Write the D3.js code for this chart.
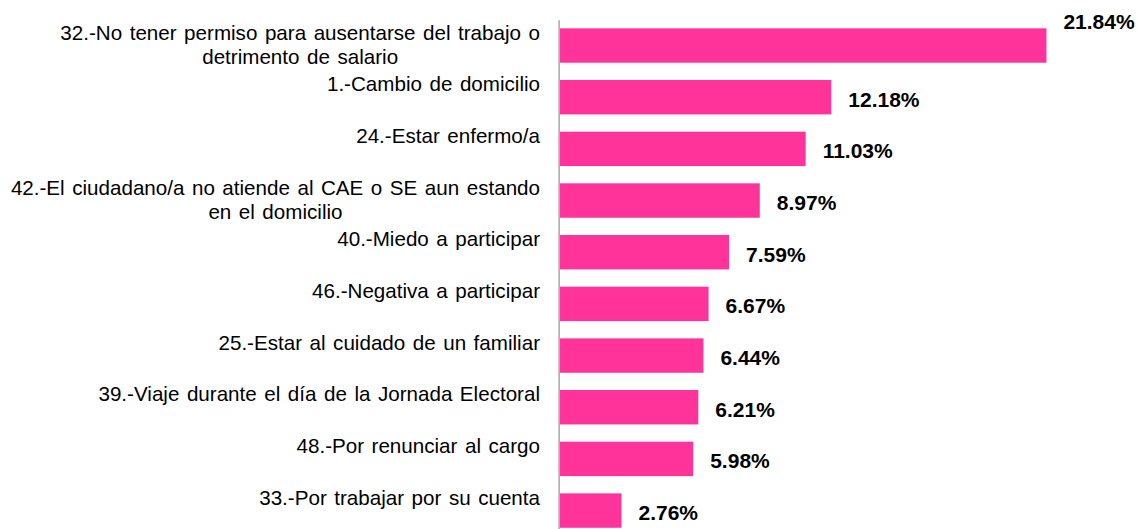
<!DOCTYPE html>
<html>
<head>
<meta charset="utf-8">
<script src="https://cdn.jsdelivr.net/npm/d3@7"></script>
<style>
  body { margin: 0; background: #fff; }
  text { font-family: Arial, "Liberation Sans", sans-serif; }
</style>
</head>
<body>
<script>
var width = 1137;
var height = 529;

// categories ("\n" = line break as in the original)
var categories = [
  "32.-No tener permiso para ausentarse del trabajo o\ndetrimento de salario",
  "1.-Cambio de domicilio",
  "24.-Estar enfermo/a",
  "42.-El ciudadano/a no atiende al CAE o SE aun estando\nen el domicilio",
  "40.-Miedo a participar",
  "46.-Negativa a participar",
  "25.-Estar al cuidado de un familiar",
  "39.-Viaje durante el día de la Jornada Electoral",
  "48.-Por renunciar al cargo",
  "33.-Por trabajar por su cuenta"
];

var values = [21.84, 12.18, 11.03, 8.97, 7.59, 6.67, 6.44, 6.21, 5.98, 2.76];

var valueLabels = ["21.84%", "12.18%", "11.03%", "8.97%", "7.59%", "6.67%", "6.44%", "6.21%", "5.98%", "2.76%"];

var data = categories.map(function(c, i) {
  return {cat: c, value: values[i], label: valueLabels[i]};
});

var svg = d3.select("body")
  .append("svg")
  .attr("width", width)
  .attr("height", height);

var xScale = d3.scaleLinear()
  .domain([0, 22])
  .range([560, 1050]);

var yScale = d3.scaleBand()
  .domain(categories)
  .range([19.7, 536.4])
  .paddingInner(0.334)
  .paddingOuter(0.167);

var bw = yScale.bandwidth();

// bars
svg.selectAll("rect.bar")
  .data(data)
  .enter()
  .append("rect")
    .attr("class", "bar")
    .attr("x", xScale(0))
    .attr("y", function(d) { return yScale(d.cat); })
    .attr("width", function(d) { return xScale(d.value) - xScale(0); })
    .attr("height", bw)
    .attr("fill", "#FF3399");

// vertical axis line only
var yAxis = svg.append("g")
  .attr("transform", "translate(558.6,0)")
  .call(d3.axisLeft(yScale).tickSize(0).tickSizeOuter(0).tickFormat(""));
yAxis.select(".domain")
  .attr("stroke", "#A6A6A6")
  .attr("stroke-width", 1.5);

// category labels: block right aligned, lines centered inside the block
var labelRight = 540;
var lineHeight = 24;

data.forEach(function(d) {
  var lines = d.cat.split("\n");
  var base = yScale(d.cat) + bw / 2 - 6;
  var g = svg.append("g");
  var texts = lines.map(function(line, k) {
    return g.append("text")
      .attr("y", base + k * lineHeight)
      .attr("font-size", "20.6px")
      .attr("word-spacing", "1.8px")
      .attr("fill", "#000")
      .attr("text-anchor", "middle")
      .text(line);
  });
  var maxW = d3.max(texts, function(t) { return t.node().getComputedTextLength(); });
  texts.forEach(function(t) { t.attr("x", labelRight - maxW / 2); });
});

// value labels (the longest one sits above its bar, like in the source)
svg.selectAll("text.val")
  .data(data)
  .enter()
  .append("text")
    .attr("class", "val")
    .attr("x", function(d) { return xScale(d.value) + 17; })
    .attr("y", function(d, i) {
      var c = yScale(d.cat) + bw / 2;
      return i === 0 ? c - 16.5 : c + 9.4;
    })
    .attr("font-size", "21px")
    .attr("font-weight", "bold")
    .attr("fill", "#000")
    .text(function(d) { return d.label; });
</script>
</body>
</html>
